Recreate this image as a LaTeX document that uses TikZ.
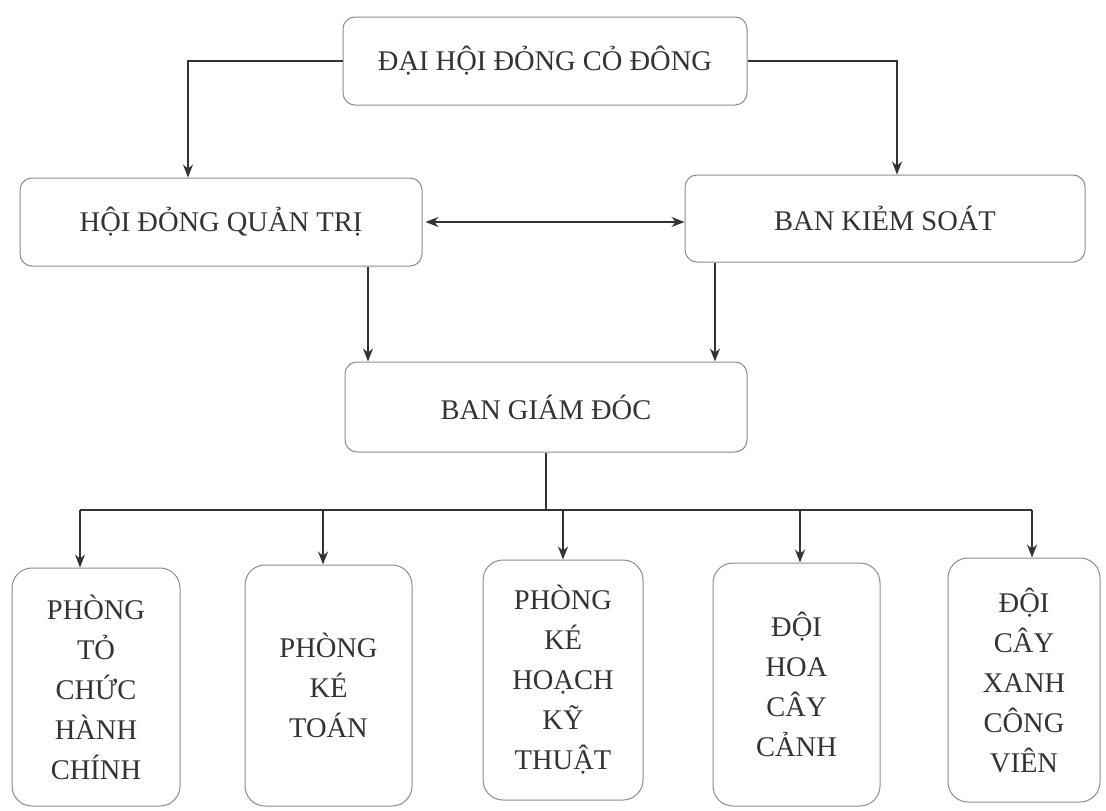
\documentclass[tikz,border=0pt]{standalone}
\usepackage{fontspec}
\setmainfont{Liberation Serif}
\usetikzlibrary{arrows.meta,calc}
\tikzset{
  box/.style={draw=black!45, line width=1pt, rounded corners=12pt, inner sep=0pt,
    align=center, text=black!80, font=\fontsize{28.5}{40}\selectfont},
  tallbox/.style={box, rounded corners=20pt},
  conn/.style={draw=black!80, line width=1.5pt},
  arr/.style={conn, -{Stealth[length=13pt,width=10pt]}},
  dbl/.style={conn, {Stealth[length=13pt,width=10pt]}-{Stealth[length=13pt,width=10pt]}}
}
\begin{document}
\begin{tikzpicture}[x=1pt,y=-1pt]
\useasboundingbox[fill=white] (0,0) rectangle (1106,811);
% top levels
\node[box, minimum width=404pt, minimum height=88pt] (dh) at (545,61) {ĐẠI HỘI ĐỎNG CỎ ĐÔNG};
\node[box, minimum width=402pt, minimum height=88pt] (hd) at (221,222) {HỘI ĐỎNG QUẢN TRỊ};
\node[box, minimum width=400pt, minimum height=87pt] (bks) at (885,218.5) {BAN KIẺM SOÁT};
\node[box, minimum width=402pt, minimum height=90pt] (bgd) at (546,407) {BAN GIÁM ĐÓC};
% bottom boxes
\node[tallbox, minimum width=168pt, minimum height=238pt] (b1) at (96,687) {PHÒNG\\TỎ\\CHỨC\\HÀNH\\CHÍNH};
\node[tallbox, minimum width=167pt, minimum height=241pt] (b2) at (328.5,685.5) {PHÒNG\\KÉ\\TOÁN};
\node[tallbox, minimum width=160pt, minimum height=240pt] (b3) at (563,680) {PHÒNG\\KÉ\\HOẠCH\\KỸ\\THUẬT};
\node[tallbox, minimum width=167pt, minimum height=243pt] (b4) at (796.5,684.5) {ĐỘI\\HOA\\CÂY\\CẢNH};
\node[tallbox, minimum width=152pt, minimum height=244pt] (b5) at (1024,680) {ĐỘI\\CÂY\\XANH\\CÔNG\\VIÊN};
% helper coordinates
\coordinate (tl) at (188,0);
\coordinate (tr) at (897,0);
\coordinate (c1) at (368,0);
\coordinate (c2) at (715,0);
\coordinate (bus) at (0,510);
\coordinate (x1) at (80,0);
\coordinate (x2) at (323,0);
\coordinate (x3) at (563,0);
\coordinate (x4) at (800,0);
\coordinate (x5) at (1032,0);
% connectors
\draw[arr] (dh.west) -| (hd.north -| tl);
\draw[arr] (dh.east) -| (bks.north -| tr);
\draw[dbl] ([xshift=3pt]hd.east) -- (hd.east -| bks.west);
\draw[arr] (hd.south -| c1) -- (bgd.north -| c1);
\draw[arr] (bks.south -| c2) -- (bgd.north -| c2);
\draw[conn] (bgd.south) -- (bgd.south |- bus);
\draw[conn] (bus -| x1) -- (bus -| x5);
\draw[arr] (bus -| x1) -- (b1.north -| x1);
\draw[arr] (bus -| x2) -- (b2.north -| x2);
\draw[arr] (bus -| x3) -- (b3.north -| x3);
\draw[arr] (bus -| x4) -- (b4.north -| x4);
\draw[arr] (bus -| x5) -- (b5.north -| x5);
\end{tikzpicture}
\end{document}
